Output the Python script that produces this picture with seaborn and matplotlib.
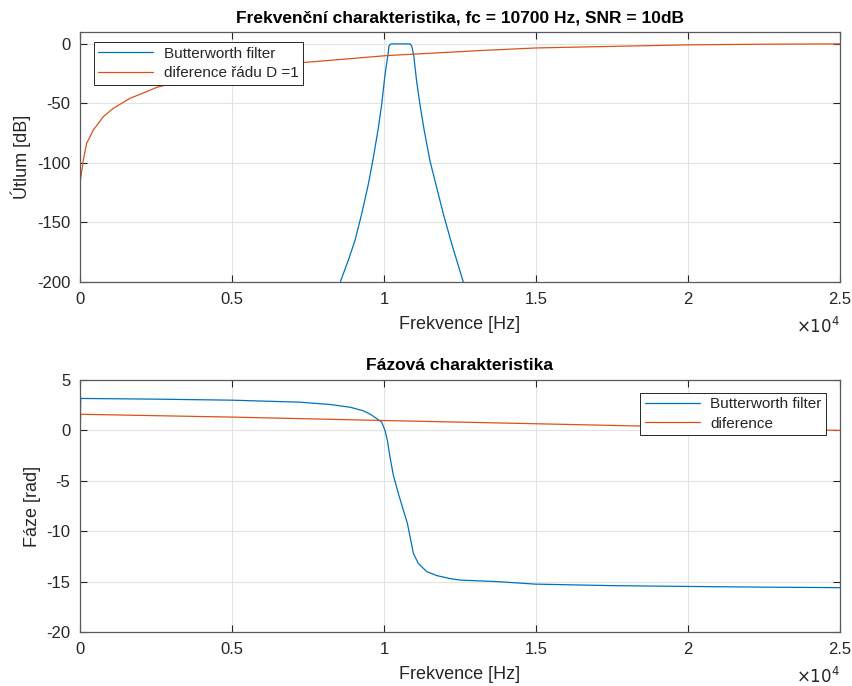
import numpy as np
import pandas as pd
import matplotlib
matplotlib.use("Agg")
import matplotlib.pyplot as plt
import seaborn as sns

# ---------------- data ----------------
# Magnitude: Butterworth band-pass [Hz] -> [dB]
bw_mag_f = [8400, 8586, 8827, 9046, 9266, 9485, 9649, 9814, 9923, 10033, 10143, 10164, 10230,
            10500, 10855, 10910, 10977, 11075, 11184, 11327, 11513, 11732, 11952, 12226, 12588, 12800]
bw_mag_db = [-215, -198.3, -181.7, -165, -142.8, -117.8, -95.6, -70.6, -51, -26, -6.7, -1.7, 0,
             0, 0, -1.7, -9.4, -31.7, -51.1, -73.3, -98.3, -120.6, -142.8, -167.8, -198.3, -215]

# Magnitude: difference filter D=1
df_mag_f = [5, 110, 219, 438, 767, 1096, 1645, 2193, 2522, 3300, 4000, 5500, 6500,
            7434, 7895, 10099, 13158, 15000, 16118, 20000, 22500, 25000]
df_mag_db = [-116, -97.5, -83.5, -72.3, -61.1, -54.1, -45.7, -40.1, -36.5, -31.5, -28, -21.6, -18.3,
             -15.4, -14.5, -9.8, -5.6, -3.4, -2.8, -0.8, -0.25, 0]

# Phase: Butterworth [rad]
bw_ph_f = [0, 23, 2500, 4967, 7237, 8224, 8882, 9319, 9539, 9759, 9923, 10033, 10110, 10197,
           10307, 10471, 10636, 10768, 10855, 10965, 11129, 11403, 11732, 12171, 12500,
           13707, 14977, 17500, 19990, 22500, 25000]
bw_ph_rad = [0, 3.17, 3.10, 3.0, 2.8, 2.57, 2.3, 1.95, 1.62, 1.18, 0.82, 0.0, -0.99, -2.63,
             -4.44, -6.25, -7.9, -9.21, -10.5, -12.2, -13.2, -14.0, -14.4, -14.7, -14.85,
             -15.0, -15.25, -15.4, -15.48, -15.55, -15.6]

# Phase: difference filter
df_ph_f = [0, 23, 5000, 10000, 15000, 20000, 25000]
df_ph_rad = [0, 1.60, 1.32, 0.98, 0.66, 0.33, 0.0]

x_ticks = [0, 5000, 10000, 15000, 20000, 25000]
x_tick_labels = ["0", "0.5", "1", "1.5", "2", "2.5"]
y1_ticks = [-200, -150, -100, -50, 0]
y2_ticks = [-20, -15, -10, -5, 0, 5]

title1 = "Frekvenční charakteristika, fc = 10700 Hz, SNR = 10dB"
title2 = "Fázová charakteristika"
xlabel = "Frekvence [Hz]"
ylabel1 = "Útlum [dB]"
ylabel2 = "Fáze [rad]"
leg1 = ["Butterworth filter", "diference řádu D =1"]
leg2 = ["Butterworth filter", "diference"]

# ---------------- style ----------------
sns.set_theme(style="white")
plt.rcParams["font.family"] = ["Liberation Sans", "DejaVu Sans"]

BLUE = "#0072BD"
ORANGE = "#D95319"
AXC = "#262626"

fig = plt.figure(figsize=(8.53, 6.86), dpi=100)
W, H = 853, 686
ax1 = fig.add_axes([80 / W, 1 - 282 / H, 760 / W, 250 / H])
ax2 = fig.add_axes([80 / W, 1 - 632 / H, 760 / W, 252 / H])

mag_bw = pd.DataFrame({"f": bw_mag_f, "v": bw_mag_db})
mag_df = pd.DataFrame({"f": df_mag_f, "v": df_mag_db})
ph_bw = pd.DataFrame({"f": bw_ph_f, "v": bw_ph_rad})
ph_df = pd.DataFrame({"f": df_ph_f, "v": df_ph_rad})

lw = 0.9
sns.lineplot(data=mag_bw, x="f", y="v", ax=ax1, color=BLUE, lw=lw, label=leg1[0])
sns.lineplot(data=mag_df, x="f", y="v", ax=ax1, color=ORANGE, lw=lw, label=leg1[1])
sns.lineplot(data=ph_bw, x="f", y="v", ax=ax2, color=BLUE, lw=lw, label=leg2[0])
sns.lineplot(data=ph_df, x="f", y="v", ax=ax2, color=ORANGE, lw=lw, label=leg2[1])

for ax, ylim, yt, ttl, yl in [(ax1, (-200, 10), y1_ticks, title1, ylabel1),
                              (ax2, (-20, 5), y2_ticks, title2, ylabel2)]:
    ax.set_xlim(0, 25000)
    ax.set_ylim(*ylim)
    ax.set_xticks(x_ticks)
    ax.set_xticklabels(x_tick_labels)
    ax.set_yticks(yt)
    ax.set_yticklabels([str(v) for v in yt])
    ax.grid(True, color="#e3e3e3", lw=0.8)
    ax.set_axisbelow(True)
    for s in ax.spines.values():
        s.set_color("#5a5a5a")
        s.set_linewidth(0.9)
    ax.tick_params(direction="in", length=5, width=0.8, colors=AXC, labelsize=12,
                   top=True, right=True, bottom=True, left=True)
    ax.tick_params(axis="x", pad=7)
    ax.tick_params(axis="y", pad=7)
    for lab in ax.get_xticklabels() + ax.get_yticklabels():
        lab.set_color(AXC)
    ax.set_title(ttl, fontsize=12.5, fontweight="bold", color="black", pad=7)
    ax.set_xlabel(xlabel, fontsize=13, color=AXC, labelpad=7)
    ax.set_ylabel(yl, fontsize=13, color=AXC, labelpad=4)
    ax.text(1.0, -0.135, r"$\times 10^{4}$", transform=ax.transAxes, ha="right", va="top",
            fontsize=12, color=AXC)

l1 = ax1.legend(loc="upper left", bbox_to_anchor=(0.018, 0.96), fontsize=11, frameon=True,
                fancybox=False, framealpha=1, edgecolor="#262626", handlelength=3.6,
                borderpad=0.3, labelspacing=0.35, handletextpad=0.7, borderaxespad=0)
l1.get_frame().set_linewidth(0.7)
l2 = ax2.legend(loc="upper right", bbox_to_anchor=(0.982, 0.95), fontsize=11, frameon=True,
                fancybox=False, framealpha=1, edgecolor="#262626", handlelength=3.6,
                borderpad=0.3, labelspacing=0.35, handletextpad=0.7, borderaxespad=0)
l2.get_frame().set_linewidth(0.7)

fig.savefig("out.png", dpi=100, facecolor="white")
